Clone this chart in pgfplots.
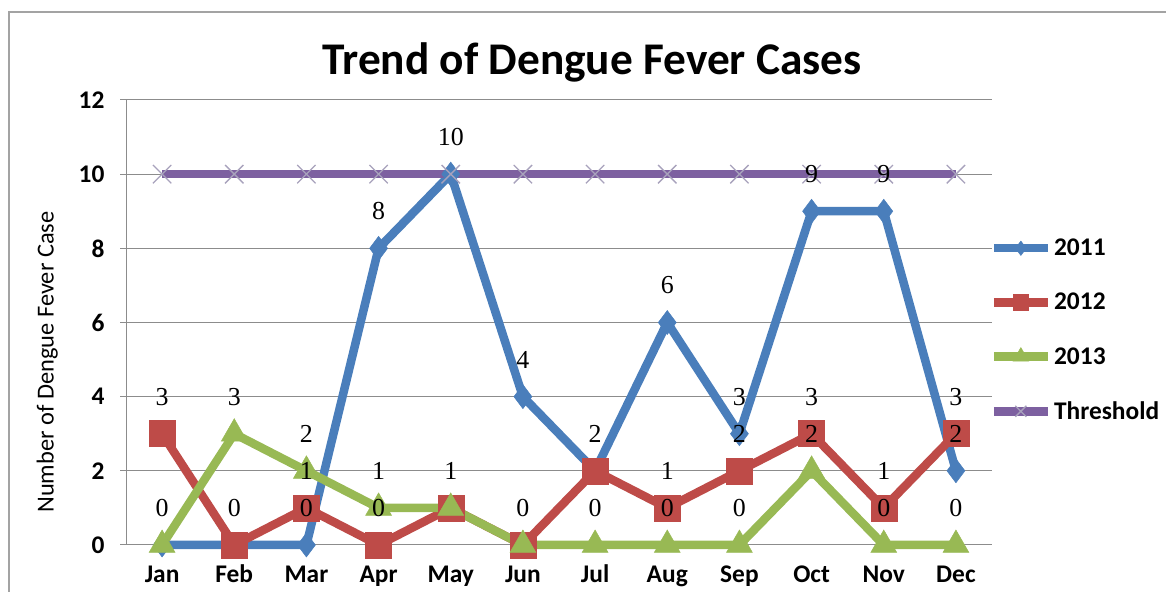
\documentclass[border=0pt]{standalone}
\usepackage{pgfplots}
\pgfplotsset{compat=1.18}
\usepackage{fontspec}
\setmainfont{Carlito}
\newfontfamily\serifnum{Liberation Serif}
\definecolor{cA}{HTML}{4A7EBB}
\definecolor{cB}{HTML}{BE4B48}
\definecolor{cC}{HTML}{98B954}
\definecolor{cD}{HTML}{7D60A0}
\definecolor{cX}{HTML}{A8A2BC}
\definecolor{gridc}{HTML}{8C8C8C}
\begin{document}
\begin{tikzpicture}[x=1bp,y=1bp]
\useasboundingbox (0,0) rectangle (1166,592);
\draw[color=gridc!80, line width=1.5bp] (9,-5) -- (9,580) -- (1175,580);
\node[font=\fontsize{45.5}{50}\selectfont\bfseries] at (592,530) {Trend of Dengue Fever Cases};
\begin{axis}[
  at={(126bp,47bp)}, anchor=south west, scale only axis,
  width=866bp, height=445bp,
  xmin=-0.5, xmax=11.5, ymin=0, ymax=12,
  ytick={0,2,...,12},
  xtick={0,...,11},
  xticklabels={Jan,Feb,Mar,Apr,May,Jun,Jul,Aug,Sep,Oct,Nov,Dec},
  axis lines=left,
  axis line style={-, draw=gridc, line width=1bp},
  ymajorgrids, grid style={draw=gridc, line width=1bp},
  xtick style={draw=none},
  ytick style={draw=gridc, line width=1bp},
  tick align=outside, major tick length=6bp,
  /pgf/number format/assume math mode=true,
  ticklabel style={font=\fontsize{25.5}{28}\selectfont\bfseries},
  yticklabel style={xshift=-12bp},
  xticklabel style={anchor=base, yshift=-32bp},
  ylabel={Number of Dengue Fever Case},
  every axis y label/.style={at={(axis description cs:-0.091,0.411)}, rotate=90, anchor=center, font=\fontsize{24.5}{27}\selectfont},
  clip=false,
  legend style={at={(axis description cs:0.997,0.483)}, anchor=west, draw=none, fill=none,
    font=\fontsize{25.5}{28}\selectfont\bfseries, row sep=32bp, inner sep=0pt,
    nodes={inner sep=2bp}},
  legend cell align=left,
  legend image code/.code={\draw[mark repeat=2,mark phase=2,#1,every mark/.append style={scale=0.6}] plot coordinates {(0bp,0bp)(27bp,0bp)(54bp,0bp)};},
]
\addplot[cA, line width=8.5bp, mark=diamond*, mark size=12bp, mark options={line width=0.5bp, fill=cA}]
  coordinates {(0,0)(1,0)(2,0)(3,8)(4,10)(5,4)(6,2)(7,6)(8,3)(9,9)(10,9)(11,2)};
\addlegendentry{2011}
\addplot[cB, line width=8.5bp, mark=square*, mark size=13bp, mark options={line width=0.5bp, fill=cB}]
  coordinates {(0,3)(1,0)(2,1)(3,0)(4,1)(5,0)(6,2)(7,1)(8,2)(9,3)(10,1)(11,3)};
\addlegendentry{2012}
\addplot[cC, line width=8.5bp, mark=triangle*, mark size=15bp, mark options={line width=0.5bp, fill=cC}]
  coordinates {(0,0)(1,3)(2,2)(3,1)(4,1)(5,0)(6,0)(7,0)(8,0)(9,2)(10,0)(11,0)};
\addlegendentry{2013}
\addplot[cD, line width=8.5bp, mark=x, mark size=13bp, mark options={draw=cX, line width=1.3bp}]
  coordinates {(0,10)(1,10)(2,10)(3,10)(4,10)(5,10)(6,10)(7,10)(8,10)(9,10)(10,10)(11,10)};
\addlegendentry{Threshold}
\addplot[draw=none, mark=none, forget plot, nodes near coords, point meta=explicit symbolic,
  every node near coord/.style={anchor=center, font=\serifnum\fontsize{26}{28}\selectfont, text=black}]
  coordinates {(0,4)[3] (1,4)[3] (2,3)[2] (3,9)[8] (4,11)[10] (5,5)[4] (6,3)[2] (7,7)[6] (8,4)[3] (9,10)[9] (10,10)[9] (11,4)[3]};
\addplot[draw=none, mark=none, forget plot, nodes near coords, point meta=explicit symbolic,
  every node near coord/.style={anchor=center, font=\serifnum\fontsize{26}{28}\selectfont, text=black}]
  coordinates {(0,1)[0] (1,1)[0] (2,2)[1] (3,2)[1] (4,2)[1] (5,1)[0] (6,1)[0] (7,2)[1] (8,3)[2] (9,4)[3] (10,2)[1] (11,3)[2]};
\addplot[draw=none, mark=none, forget plot, nodes near coords, point meta=explicit symbolic,
  every node near coord/.style={anchor=center, font=\serifnum\fontsize{26}{28}\selectfont, text=black}]
  coordinates {(2,1)[0] (3,1)[0] (7,1)[0] (8,1)[0] (9,3)[2] (10,1)[0] (11,1)[0]};
\end{axis}
\end{tikzpicture}
\end{document}
